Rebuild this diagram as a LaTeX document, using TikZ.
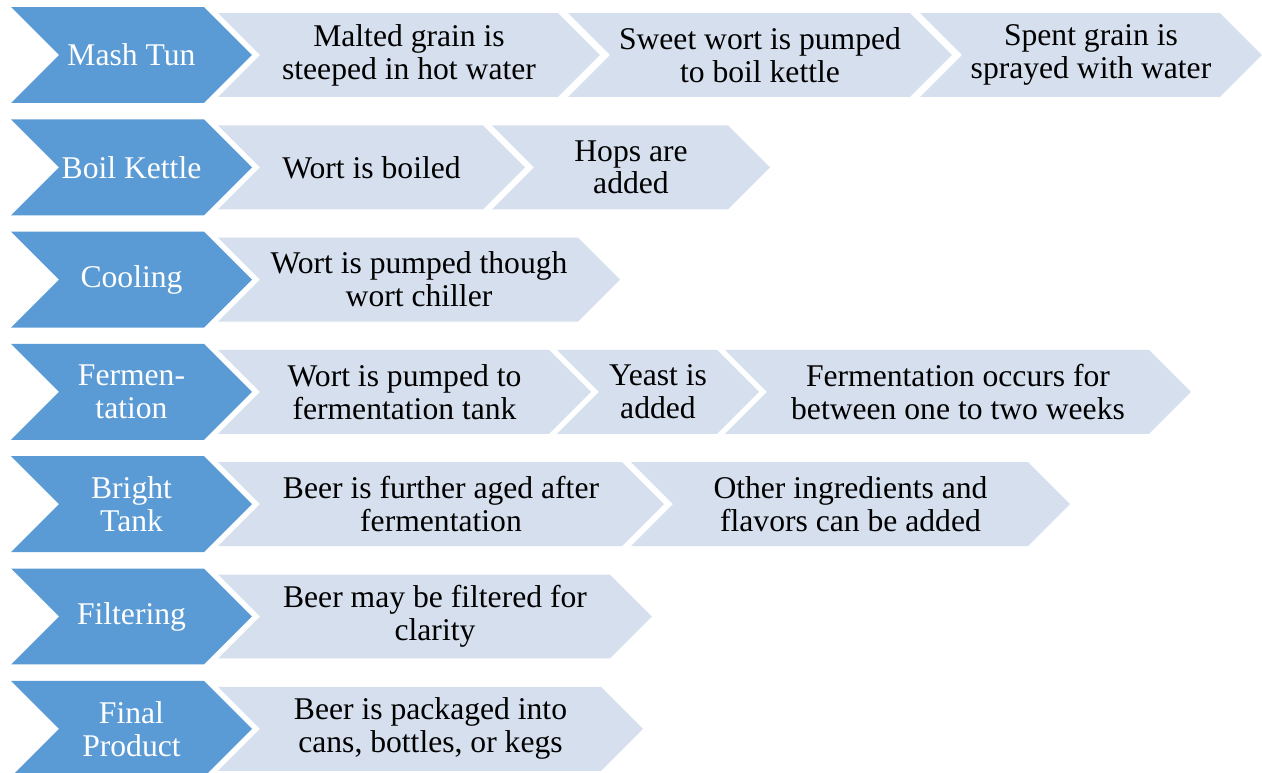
\documentclass[tikz,border=0pt]{standalone}
\usepackage{fontspec}
\setmainfont{Liberation Serif}
\usepackage{tikz}
\usetikzlibrary{shapes.symbols}
\definecolor{stepblue}{RGB}{91,155,213}
\definecolor{steplight}{RGB}{213,223,237}
\tikzset{
  stage/.style={signal,signal from=west,signal to=east,signal pointer angle=90,
                fill=stepblue,text=white,minimum width=4.82cm,minimum height=1.92cm,
                inner sep=0pt,align=center,font=\fontsize{18}{18.7}\selectfont},
  task/.style={signal,signal from=west,signal to=east,signal pointer angle=90,
               fill=steplight,text=black,minimum width=#1,minimum height=1.68cm,
               inner sep=0pt,align=center,font=\fontsize{18}{18.7}\selectfont},
  task/.default=7.6cm,
}
\begin{document}
\begin{tikzpicture}[x=0.02cm,y=-0.02cm]
  \useasboundingbox (0,0) rectangle (1262,773);

  % -- Mash Tun
  \node[stage] (mash) at (131.5,55) {Mash Tun};
  \node[task=7.64cm] (mash1) at (409,55) {Malted grain is\\steeped in hot water};
  \node[task=7.68cm] (mash2) at (760,55) {Sweet wort is pumped\\to boil kettle};
  \node[task=6.84cm] (mash3) at (1091,55) {Spent grain is\\sprayed with water};

  % -- Boil Kettle
  \node[stage] (boil) at (131.5,167.3) {Boil Kettle};
  \node[task=6.14cm] (boil1) at (371.5,167.3) {Wort is boiled};
  \node[task=5.56cm] (boil2) at (631,167.3) {Hops are\\added};

  % -- Cooling
  \node[stage] (cool) at (131.5,279.6) {Cooling};
  \node[task=8.04cm] (cool1) at (419,279.6) {Wort is pumped though\\wort chiller};

  % -- Fermentation
  \node[stage] (ferm) at (131.5,391.9) {Fermen-\\tation};
  \node[task=7.46cm] (ferm1) at (404.5,391.9) {Wort is pumped to\\fermentation tank};
  \node[task=4.04cm] (ferm2) at (658,391.9) {Yeast is\\added};
  \node[task=9.32cm] (ferm3) at (958,391.9) {Fermentation occurs for\\between one to two weeks};

  % -- Bright Tank
  \node[stage] (bright) at (131.5,504.2) {Bright\\Tank};
  \node[task=8.92cm] (bright1) at (441,504.2) {Beer is further aged after\\fermentation};
  \node[task=8.78cm] (bright2) at (850.5,504.2) {Other ingredients and\\flavors can be added};

  % -- Filtering
  \node[stage] (filt) at (131.5,616.5) {Filtering};
  \node[task=8.68cm] (filt1) at (435,616.5) {Beer may be filtered for\\clarity};

  % -- Final Product
  \node[stage] (final) at (131.5,728.8) {Final\\Product};
  \node[task=8.5cm] (final1) at (430.5,728.8) {Beer is packaged into\\cans, bottles, or kegs};
\end{tikzpicture}
\end{document}
